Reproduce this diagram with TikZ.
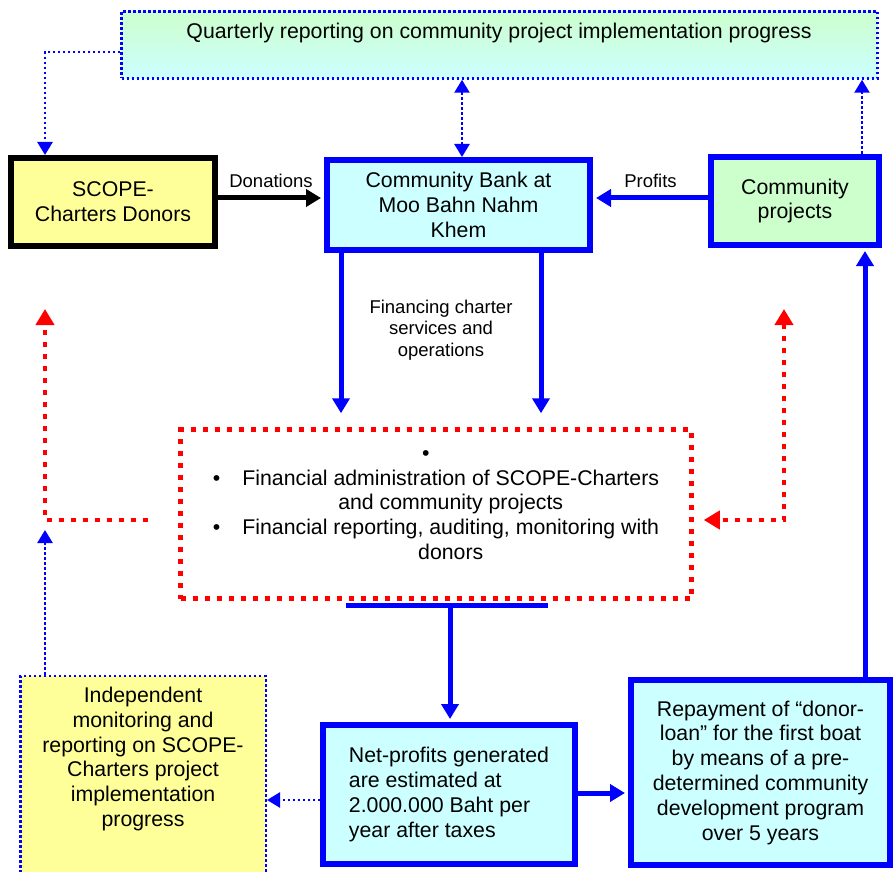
\documentclass[tikz,border=0pt]{standalone}
\usepackage{fontspec}
\setmainfont{Liberation Sans}
\usetikzlibrary{arrows.meta}
\definecolor{cyanfill}{HTML}{CCFFFF}
\definecolor{greenfill}{HTML}{CCFFCC}
\definecolor{yellowfill}{HTML}{FFFF99}
\tikzstyle{bluebox} = [draw=blue, fill=cyanfill, line width=6pt, rectangle,
    inner sep=0pt, align=center, font=\fontsize{21.3}{24.8}\selectfont]
\tikzstyle{dotbox} = [draw=blue, line width=2.5pt, dash pattern=on 2.5pt off 2.5pt,
    rectangle, inner sep=0pt]
\tikzstyle{bigtext} = [font=\fontsize{21.3}{24.8}\selectfont, align=center, inner sep=0pt]
\tikzstyle{smalltext} = [font=\fontsize{18.5}{21.5}\selectfont, align=center, inner sep=0pt]
\tikzstyle{bluearrow} = [draw=blue, line width=5pt, shorten >=3pt,
    >={Triangle[width=17pt,length=15pt]}, ->]
\tikzstyle{dotarrow} = [draw=blue, line width=2.5pt, dash pattern=on 2.5pt off 2.5pt,
    >={Triangle[width=15pt,length=13pt]}, ->]
\tikzstyle{redarrow} = [draw=red, line width=4.5pt, dash pattern=on 5pt off 7pt,
    >={Triangle[width=18pt,length=16pt]}, ->]

\begin{document}
\begin{tikzpicture}[x=1pt, y=-1pt]
    \useasboundingbox (0,0) rectangle (895,872);
    % boxes
    \node[dotbox, top color=greenfill, bottom color=cyanfill,
        minimum width=756pt, minimum height=67pt] (quart) at (499.5,45) {};
    \node[bigtext] (quartTxt) at (499,33)
        {Quarterly reporting on community project implementation progress};
    \node[bluebox, draw=black, fill=yellowfill, minimum width=204pt, minimum height=88pt]
        (scope) at (113,202) {SCOPE-\\Charters Donors};
    \node[bluebox, minimum width=263pt, minimum height=90pt]
        (bank) at (458.5,205) {Community Bank at\\Moo Bahn Nahm\\Khem};
    \node[bluebox, fill=greenfill, minimum width=168pt, minimum height=88pt]
        (proj) at (795,201) {Community\\projects};
    \node[draw=red, line width=4.5pt, dash pattern=on 5pt off 7pt,
        minimum width=511pt, minimum height=169pt] (fin) at (436,514) {};
    \node[bigtext] (finTxt) at (436,505) {%
        \begin{tabular}{@{}l@{\hspace{22pt}}c@{}}
            & \hspace*{-50pt}\textbullet\\
            \textbullet & Financial administration of SCOPE-Charters\\
            & and community projects\\
            \textbullet & Financial reporting, auditing, monitoring with\\
            & donors
        \end{tabular}};
    \node[bluebox, align=left, minimum width=252pt, minimum height=139pt]
        (net) at (449,794.5) {Net-profits generated\\are estimated at\\2.000.000 Baht per\\year after taxes};
    \node[bluebox, minimum width=259pt, minimum height=185pt]
        (rep) at (760.5,772.5) {Repayment of “donor-\\loan” for the first boat\\by means of a pre-\\determined community\\development program\\over 5 years};
    \node[dotbox, fill=yellowfill, minimum width=245.5pt, minimum height=220pt]
        (ind) at (143,786) {};
    \node[bigtext] (indTxt) at (143,759)
        {Independent\\monitoring and\\reporting on SCOPE-\\Charters project\\implementation\\progress};

    % money flows
    \draw[bluearrow, draw=black] (scope.east |- 0,198)
        -- node[smalltext, above=8pt] (donLbl) {Donations} (bank.west |- 0,198);
    \draw[bluearrow] (proj.west |- 0,198)
        -- node[smalltext, above=8pt] (profLbl) {Profits} (bank.east |- 0,198);
    \draw[bluearrow, shorten >=14pt] (bank.south -| 341,0) -- (fin.north -| 341,0);
    \draw[bluearrow, shorten >=14pt] (bank.south -| 541,0) -- (fin.north -| 541,0);
    \node[smalltext] (finLbl) at (441,330) {Financing charter\\services and\\operations};
    \coordinate (finBar) at (450,605);
    \draw[draw=blue, line width=5pt] ([xshift=-104pt]finBar) -- ([xshift=98pt]finBar);
    \draw[bluearrow] (finBar) -- (net.north -| finBar);
    \draw[bluearrow] (net.east |- 0,793) -- (rep.west |- 0,793);
    \draw[bluearrow] (rep.north -| 865,0) -- (proj.south -| 865,0);

    % reporting
    \draw[dotarrow] (quart.west |- 0,52) -| (scope.north -| 45,0);
    \draw[dotarrow, <->] (quart.south -| 462,0) -- (bank.north -| 462,0);
    \draw[dotarrow] (proj.north -| 862,0) -- (quart.south -| 862,0);
    \draw[dotarrow] (net.west |- 0,800) -- (ind.east |- 0,800);
    \coordinate (indTop) at (45,530);
    \draw[dotarrow] (ind.north -| 45,0) -- (indTop);

    % administration feedback
    \coordinate (redL) at (148,520);
    \coordinate (redLtop) at (45,309);
    \draw[redarrow] (redL) -| (redLtop);
    \coordinate (redRtop) at (784,309);
    \draw[redarrow, <->] (redRtop) |- ([xshift=10pt]fin.east |- 0,520);
\end{tikzpicture}
\end{document}
